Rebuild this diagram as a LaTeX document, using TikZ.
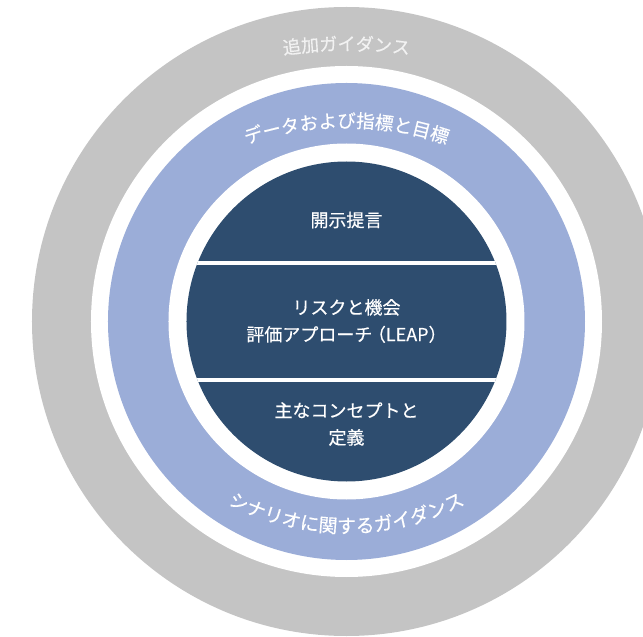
\documentclass[tikz,border=0pt]{standalone}
\usepackage{fontspec}
\setmainfont{Noto Sans CJK JP}[FakeBold=0.4]
\usetikzlibrary{decorations.text}
\definecolor{ringgray}{RGB}{196,196,196}
\definecolor{ringblue}{RGB}{155,173,216}
\definecolor{navyfill}{RGB}{46,77,111}
\definecolor{paletext}{RGB}{242,242,242}
\tikzset{
  innertext/.style={text=white, align=center, font=\fontsize{18}{27}\selectfont, inner sep=0pt},
  divider/.style={white, line width=4pt},
}
\begin{document}
\begin{tikzpicture}[x=1pt,y=1pt]
\useasboundingbox (-346.5,-315.5) rectangle (296.5,321.5);
\clip (-346.5,-315.5) rectangle (296.5,321.5);
\coordinate (c) at (0,0);
\fill[ringgray] (c) circle[radius=314.5];
\fill[white] (c) circle[radius=255.5];
\fill[ringblue] (c) circle[radius=238.5];
\fill[white] (c) circle[radius=178];
\fill[navyfill] (c) circle[radius=160];
\coordinate (d1l) at (-165,58);
\coordinate (d1r) at (165,58);
\coordinate (d2l) at (-165,-59);
\coordinate (d2r) at (165,-59);
\begin{scope}
\clip (c) circle[radius=160];
\draw[divider] (d1l) -- (d1r);
\draw[divider] (d2l) -- (d2r);
\end{scope}
\node[innertext] (top) at (0,101.5) {開示提言};
\node[innertext] (mid) at (0,0.5) {リスクと機会\\評価アプローチ\kern-0.25em（LEAP）};
\node[innertext] (bot) at (0,-102.5) {主なコンセプトと\\定義};
% arc centres for the curved labels
\coordinate (cg) at (0,-202);
\coordinate (cbt) at (0,-109);
\coordinate (cbb) at (0,47.5);
\path[decorate, decoration={text along path, text align=center,
  text={|\fontsize{18}{18}\selectfont\color{paletext}|追加ガイダンス}}]
  ([shift={(120:473)}]cg) arc[start angle=120, end angle=60, radius=473];
\path[decorate, decoration={text along path, text align=center,
  text={|\fontsize{18.5}{18.5}\selectfont\color{white}|データおよび指標と目標}}]
  ([shift={(135:303)}]cbt) arc[start angle=135, end angle=45, radius=303];
\path[decorate, decoration={text along path, text align=center,
  text={|\fontsize{19}{19}\selectfont\color{white}|シナリオに関するガイダンス}}]
  ([shift={(210:259)}]cbb) arc[start angle=210, end angle=330, radius=259];
\end{tikzpicture}
\end{document}
